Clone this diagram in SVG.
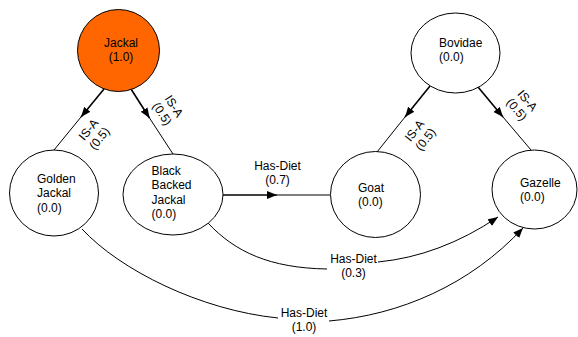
<svg xmlns="http://www.w3.org/2000/svg" width="578" height="337" viewBox="0 0 578 337">
<style>
text{font-family:"Liberation Sans",Arial,Helvetica,sans-serif;font-size:12px;fill:#000}
.node{fill:#fff;stroke:#000;stroke-width:1}
.hot{fill:#FF6600}
.e{fill:none;stroke:#000;stroke-width:1}
.eb{fill:none;stroke:#000;stroke-width:1.6}
.c{text-anchor:middle}
</style>
<defs>
<marker id="arr" markerUnits="userSpaceOnUse" markerWidth="11" markerHeight="9" refX="10" refY="4" orient="auto" viewBox="0 0 11 9">
<path d="M0,0 L10,4 L0,8 z" fill="#000"/>
</marker>
</defs>
<rect width="578" height="337" fill="#fff"/>
<g id="connectors">
<path class="eb" d="M104,89 L81,117" marker-end="url(#arr)"/>
<path class="e" d="M81,117 L54,150"/>
<path class="eb" d="M131,89 L149.5,118" marker-end="url(#arr)"/>
<path class="e" d="M149.5,118 L173,154"/>
<path class="eb" d="M430,86 L405,117" marker-end="url(#arr)"/>
<path class="e" d="M405,117 L377,152"/>
<path class="eb" d="M478,87 L503,117" marker-end="url(#arr)"/>
<path class="e" d="M503,117 L531,150"/>
<path class="eb" d="M223,195 L277,195" marker-end="url(#arr)"/>
<path class="e" d="M277,195 L330,195"/>
<path class="e" d="M208,223 C235,252 270,268 327,269"/>
<path class="e" d="M378,262 Q440,256 498,217" marker-end="url(#arr)"/>
<path class="e" d="M82,229 C120,270 200,310 278,318"/>
<path class="e" d="M329,321 C400,315 470,285 523,228" marker-end="url(#arr)"/>
<text class="c" transform="translate(94,134) rotate(-51)"><tspan x="0" y="-3">IS-A</tspan><tspan x="0" y="11">(0.5)</tspan></text>
<text class="c" transform="translate(168,110) rotate(57)"><tspan x="0" y="-3">IS-A</tspan><tspan x="0" y="11">(0.5)</tspan></text>
<text class="c" transform="translate(420,135) rotate(-52)"><tspan x="0" y="-3">IS-A</tspan><tspan x="0" y="11">(0.5)</tspan></text>
<text class="c" transform="translate(522,105) rotate(50)"><tspan x="0" y="-3">IS-A</tspan><tspan x="0" y="11">(0.5)</tspan></text>
<text class="c"><tspan x="277.5" y="170">Has-Diet</tspan><tspan x="277.5" y="184.4">(0.7)</tspan></text>
<text class="c"><tspan x="353.5" y="262.7">Has-Diet</tspan><tspan x="353.5" y="277">(0.3)</tspan></text>
<text class="c"><tspan x="304" y="317">Has-Diet</tspan><tspan x="304" y="331.4">(1.0)</tspan></text>
</g>
<g id="node-jackal">
<circle class="node hot" cx="118.5" cy="50.5" r="41"/>
<text class="c"><tspan x="121" y="46.5">Jackal</tspan><tspan x="121" y="60.5">(1.0)</tspan></text>
</g>
<g id="node-bovidae">
<ellipse class="node" cx="455.5" cy="53" rx="44.5" ry="40"/>
<text><tspan x="439" y="47">Bovidae</tspan><tspan x="439" y="61.4">(0.0)</tspan></text>
</g>
<g id="node-golden-jackal">
<ellipse class="node" cx="54" cy="193" rx="44.5" ry="43"/>
<text><tspan x="37" y="183">Golden</tspan><tspan x="37" y="197.4">Jackal</tspan><tspan x="37" y="211.8">(0.0)</tspan></text>
</g>
<g id="node-black-backed-jackal">
<ellipse class="node" cx="173" cy="194.5" rx="50" ry="40.5"/>
<text><tspan x="151.5" y="175">Black</tspan><tspan x="151.5" y="189.4">Backed</tspan><tspan x="151.5" y="203.8">Jackal</tspan><tspan x="151.5" y="218.2">(0.0)</tspan></text>
</g>
<g id="node-goat">
<ellipse class="node" cx="375.5" cy="194.5" rx="45" ry="43"/>
<text><tspan x="358" y="191.5">Goat</tspan><tspan x="358" y="205.9">(0.0)</tspan></text>
</g>
<g id="node-gazelle">
<ellipse class="node" cx="534.5" cy="189.5" rx="42.5" ry="39.5"/>
<text><tspan x="520" y="187">Gazelle</tspan><tspan x="520" y="201.4">(0.0)</tspan></text>
</g>
</svg>
